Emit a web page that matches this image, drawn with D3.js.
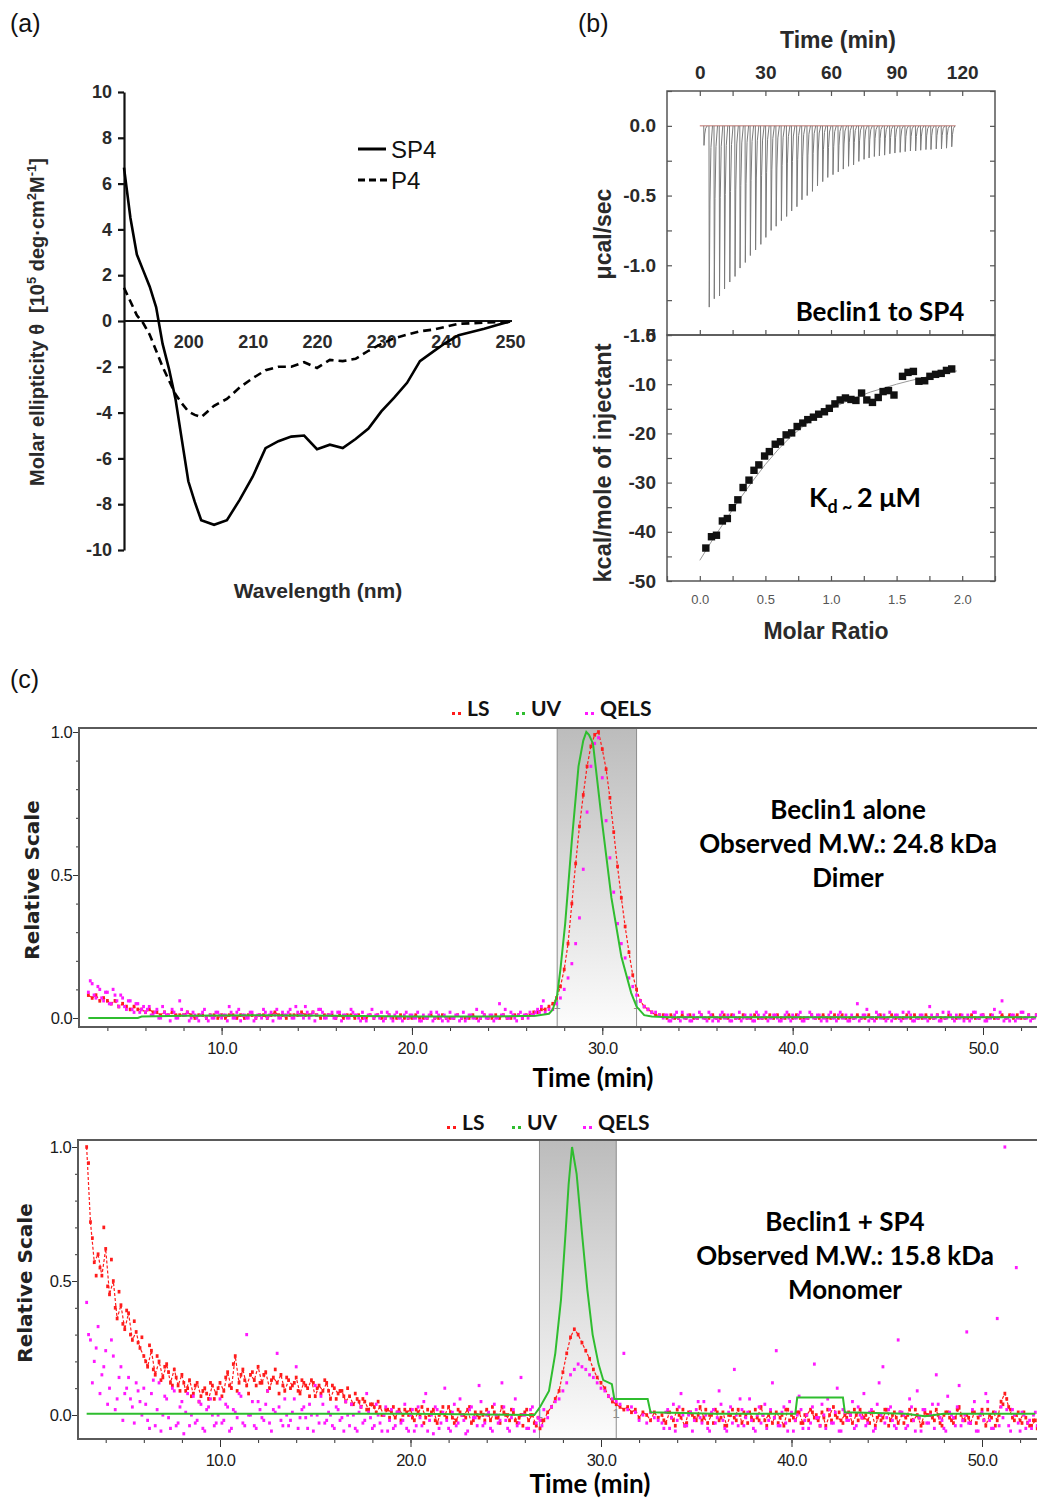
<!DOCTYPE html>
<html><head><meta charset="utf-8">
<script src="https://cdn.jsdelivr.net/npm/d3@7"></script>
<style>body{margin:0;background:#fff}svg{display:block}</style>
</head><body>
<script>
// ================= DATA =================
// Panel (a): CD spectra
const cdWavelength = [190,191,192,193,194,195,196,197,198,199,200,201,202,204,206,208,210,212,214,216,218,220,222,224,226,228,230,232,234,236,238,240,242,244,246,248,250];
const cdSP4 = [6.7,4.5,2.9,2.2,1.5,0.6,-1.0,-2.1,-3.4,-5.2,-7.0,-7.9,-8.7,-8.9,-8.7,-7.8,-6.8,-5.55,-5.25,-5.05,-5.0,-5.6,-5.4,-5.55,-5.15,-4.7,-3.95,-3.35,-2.7,-1.75,-1.35,-0.95,-0.62,-0.48,-0.34,-0.18,-0.02];
const cdP4 = [1.45,0.85,0.25,-0.1,-0.6,-1.3,-2.0,-2.6,-3.2,-3.6,-3.95,-4.1,-4.2,-3.7,-3.4,-2.9,-2.5,-2.15,-2.0,-2.0,-1.8,-2.05,-1.7,-1.75,-1.65,-1.3,-1.0,-0.75,-0.6,-0.45,-0.38,-0.25,-0.12,-0.1,-0.07,-0.05,-0.05];
const cdYTicks = [-10,-8,-6,-4,-2,0,2,4,6,8,10];
const cdXTicks = [200,210,220,230,240,250];

// Panel (b): ITC
const itcInjTime = [1.8,4.2,6.5,8.9,11.2,13.6,16.0,18.3,20.7,23.0,25.4,27.8,30.1,32.5,34.8,37.2,39.6,41.9,44.3,46.6,49.0,51.4,53.7,56.1,58.4,60.8,63.2,65.5,67.9,70.2,72.6,75.0,77.3,79.7,82.0,84.4,86.8,89.1,91.5,93.8,96.2,98.6,100.9,103.3,105.6,108.0,110.4,112.7,115.1];
const itcPeak = [-0.14,-1.30,-1.24,-1.22,-1.17,-1.12,-1.08,-1.02,-0.98,-0.93,-0.89,-0.85,-0.80,-0.75,-0.72,-0.68,-0.65,-0.61,-0.58,-0.53,-0.50,-0.47,-0.43,-0.40,-0.37,-0.35,-0.33,-0.31,-0.29,-0.28,-0.255,-0.24,-0.23,-0.22,-0.215,-0.21,-0.20,-0.195,-0.19,-0.185,-0.18,-0.18,-0.175,-0.17,-0.17,-0.165,-0.165,-0.16,-0.15];
const itcBaseline = [0, 117];
const itcRatio = [0.046,0.089,0.127,0.172,0.21,0.248,0.29,0.33,0.375,0.413,0.45,0.494,0.53,0.575,0.615,0.658,0.70,0.742,0.785,0.823,0.866,0.906,0.95,0.987,1.03,1.07,1.11,1.152,1.19,1.233,1.273,1.316,1.36,1.397,1.438,1.48,1.545,1.587,1.628,1.67,1.714,1.754,1.797,1.84,1.88,1.92];
const itcHeat = [-43.3,-41.0,-40.7,-37.8,-37.3,-35.1,-33.5,-31.0,-29.5,-27.5,-26.4,-24.6,-23.7,-22.2,-21.7,-20.3,-19.9,-18.6,-17.9,-17.2,-16.7,-16.1,-15.6,-14.9,-14.0,-13.2,-12.8,-13.1,-13.3,-11.8,-13.2,-13.7,-12.7,-11.5,-11.3,-12.2,-8.4,-7.6,-7.4,-9.4,-9.3,-8.4,-8.0,-7.8,-7.2,-6.9];
const fitRatio = [0,0.1,0.2,0.3,0.4,0.5,0.6,0.7,0.8,0.9,1.0,1.1,1.2,1.3,1.4,1.5,1.6,1.7,1.8,1.9,1.96];
const fitHeat = [-45.8,-41.5,-37.5,-33.5,-29.8,-26.3,-23.2,-20.5,-18.3,-16.5,-15.0,-13.7,-12.6,-11.6,-10.8,-10.0,-9.3,-8.7,-8.1,-7.6,-7.3];
const itcTimeTicks = [0,15,30,45,60,75,90,105,120];
const itcRateTicks = [-1.5,-1.25,-1.0,-0.75,-0.5,-0.25,0,0.25];
const itcRateLabels = [-1.5,-1.0,-0.5,0];
const itcHeatTicks = [-50,-45,-40,-35,-30,-25,-20,-15,-10,-5,0];
const itcHeatLabels = [-50,-40,-30,-20,-10,0];
const itcRatioTicks = [-0.25,0,0.25,0.5,0.75,1.0,1.25,1.5,1.75,2.0,2.25];
const itcRatioLabels = [0,0.5,1.0,1.5,2.0];

// Panel (c): SEC-MALS traces, relative scale in percent, sampled every 0.2 min
// (A samples start at 3.0 / 27.0 / 33.2 min, B samples are interleaved at +0.1 min)
const secStep = 0.2, secPreStart = 3.0, secPeakStart = 27.0, secPostStart = 33.2;
const secPreStartB = 3.1, secPostStartB = 33.3;
const secMajorTicks = [10,20,30,40,50];
const secYLabels = [0,0.5,1.0];
// top: Beclin1 alone
const lsTopPre = [8,7,8,6,7,6,5,6,4,5,4,3,4,3,3, 2,3,2,2,1,2,1,2,1,1,1,2,1,0,1,1,0,1,1,0,
 1,0,1,1,0,1,0,1,1,0, 1,1,0,1,2,1,1,0,1,1, 1,2,1,1,2,1,0,1,1,1, 0,1,0,1,1,0,1,0,0,1, 0,1,0,0,1,0,0,1,0,0,
 0,1,0,0,0,1,0,0,1,0, 0,0,1,0,0,0,1,0,0,1, 0,0,1,0,1,0,0,1,1,0, 1,1,2,2,3];
const lsTopPeak = [3,4,5,7,11,17,26,40,54,67,78,88,95,99,100,94,87,77,65,53,42,32,23,15,10,6,4,3,2,1,1];
const lsTopPost = [1,0,1,0,0,1,0,1,0,0, 1,0,0,1,0,0,1,0,1,0, 0,1,0,0,1,0,0,0,1,0, 1,0,0,1,0,1,0,0,0,1, 0,0,1,0,0,1,0,1,0,0, 0,1,0,0,1,0,0,1,0,0, 1,0,0,0,1,0,1,0,0,1, 0,0,1,0,0,1,0,0,1,0, 0,1,0,0,1,0,1,0,0,1, 0,1,0,1,0,0,1,0,1];
const qelsTopPre = [9,12,7,10,6,9,5,8,4,7,3,6,2,5,3, 2,4,1,3,0,2,1,3,0,6,1,2,0,1,-1,2,0,1,0,2,
 0,1,4,0,2,-1,1,0,2,0, 1,3,0,2,1,0,2,1,3,0, 2,1,4,0,2,1,3,0,1,2, 0,2,1,0,3,1,0,2,-1,1, 0,1,2,0,1,-1,2,0,1,0,
 1,0,-1,1,0,2,0,1,-1,0, 2,0,1,0,-1,1,0,3,0,1, 0,1,0,5,1,0,2,0,1,0, 1,2,1,3,4];
const qelsTopPeak = [2,3,3,5,7,10,14,19,26,35,52,72,88,96,98,84,69,56,44,33,26,21,14,11,8,6,4,3,2,2,1];
const qelsTopPost = [0,1,-1,1,0,2,0,-1,1,0, 1,0,2,-1,0,1,0,1,-1,0, 2,0,0,1,-1,1,0,2,0,1, 0,-1,1,0,1,0,2,-1,0,1, 0,1,0,-1,2,0,1,0,1,-1, 0,5,0,1,-1,0,2,0,1,0, -1,1,0,2,0,1,-1,0,1,0, 4,0,1,-1,0,2,0,1,0,-1, 1,0,2,0,1,-1,0,3,0,6, 0,-1,1,0,2,0,1,0,1];
const qelsTopPreB = [13,8,11,7,9,5,10,6,8,4,6,3,5,2,4, 3,1,2,0,4,1,-1,2,0,3,1,-1,2,0,1,3,-1,0,2,1,
 1,-1,2,0,3,1,0,2,-1,1, 0,2,1,-1,3,0,1,2,0,4, 1,0,2,1,-1,3,2,0,1,0, 2,-1,1,0,2,1,-1,0,1,3, 1,0,-1,2,0,1,0,-1,2,1,
 0,2,-1,0,1,-1,2,0,1,-1, 0,1,-1,2,0,1,0,-1,2,0, 1,-1,0,1,3,0,1,-1,2,1, 0,1,2,2,6];
const qelsTopPostB = [1,-1,0,2,-1,0,1,-1,0,2, 0,-1,1,0,-1,2,0,-1,1,0, -1,1,0,-1,2,0,1,-1,0,1, -1,0,2,-1,0,1,-1,0,2,0, 1,-1,0,1,0,-1,2,0,-1,1, 0,-1,1,3,0,-1,1,0,-1,2, 0,1,-1,0,2,-1,0,1,0,-1, 1,0,-1,2,0,1,-1,0,1,0, -1,2,0,1,-1,0,1,0,2, -1,0,1,-1,0,2,0,-1,0,1];
const uvTopTime = [3.0,5.6,5.8,8,12,16,20,24,26.5,27.2,27.4,27.63,27.8,28.05,28.4,28.75,29.0,29.16,29.3,29.51,29.96,30.48,31.0,31.52,31.8,32.2,32.6,33.5,40,52.8];
const uvTopVal = [0,0,0.5,0.8,1,0.8,0.5,0.5,0.8,1.5,3,8,17,33,62,88,97,100,99,96,70,42,21.5,8.7,4,1,0.5,0.3,0.3,0.3];
const bandTop = [27.63, 31.8];
// bottom: Beclin1 + SP4
const lsBotPre = [100,72,57,60,52,62,45,50,36,41,32,38,28,31,25, 22,18,24,15,20,14,19,12,17,11,15,9,13,8,12,7,10,6,11,8,
 12,9,16,10,22,12,17,11,15,13, 18,12,16,10,14,12,15,9,13,11, 14,8,12,10,13,7,11,9,12,6, 10,8,9,5,7,4,6,3,5,2, 4,1,3,0,2,1,-1,2,0,1,
 2,-2,1,3,-1,0,2,-3,1,0, 3,-1,-2,1,0,2,-3,1,-1,0, 2,-2,1,-1,3,0,-2,1,-3,0, 1,-2,0,-4,-5];
const lsBotPeak = [-2,1,3,6,9,16,23,29,32,30,27,24,21,17,14,12,10,7,5,4,3,2,3,1,2,-1,1,0,-2,1,-1];
const lsBotPost = [0,-3,1,-2,2,-1,-4,1,0,-2, 3,-1,-3,0,2,-2,1,-4,0,-1, 2,-3,0,1,-2,-1,3,-2,0,-3, 1,-1,-4,2,0,-2,1,-3,0,2, -1,-2,1,-4,0,3,-1,-2,0,1, -3,0,2,-1,-2,1,-4,0,-1,2, -2,1,-3,0,-1,2,-2,0,-4,1, 0,-1,2,-3,0,1,-2,-1,3,-2, 0,-3,1,-1,2,-4,0,1,-2,5, 8,3,-1,0,-2,1,-3,-4,-2];
const lsBotPreB = [94,66,52,55,70,48,58,40,46,34,39,30,35,27,29, 20,26,17,22,13,18,16,11,14,9,12,10,7,11,5,9,8,12,6,10,
 7,14,11,19,9,15,13,8,16,11, 12,15,9,13,17,8,11,14,10,12, 9,13,11,7,12,10,8,13,9,11, 6,9,7,10,4,8,5,6,2,4, 3,5,0,2,-1,3,1,-2,2,0,
 -1,2,0,-3,2,1,-2,0,3,-1, 1,-3,2,0,-1,3,-2,0,1,-2, 0,3,-1,-3,1,0,2,-2,-1,-4, 2,0,-3,-1,-2];
const lsBotPostB = [-2,1,-1,-4,0,2,-3,1,-1,0, -2,2,0,-3,1,-1,-4,0,2,-2, 0,1,-3,-1,2,-2,0,-4,1,-1, -3,0,2,-2,-1,1,-3,0,-2,1, 0,-4,-1,2,-2,0,1,-3,-1,0, 2,-2,-1,0,-3,1,-1,-2,2,-4, 0,-1,1,-3,0,-2,2,-1,-3,0, 1,-2,0,-4,1,-1,-3,2,0,-2, -1,1,-3,0,-2,2,-1,-4,0,4, 6,2,-2,1,-3,-1,-4,-2,-5];
const qelsBotPre = [42,28,20,33,15,24,10,22,6,18,8,14,3,12,5, 10,-2,8,-4,12,0,6,-5,9,-3,5,1,-4,7,-2,4,-6,3,0,-3,
 6,-2,3,-5,1,8,-3,30,0,-4, 5,-1,4,-3,2,23,-2,6,-4,1, 18,-1,3,-5,0,11,-3,4,-2,0, -5,2,-1,5,-4,0,-6,3,-2,1, -5,4,-3,0,-6,2,-4,1,-2,-5,
 0,-6,3,-4,8,-2,-7,2,-3,10, -5,1,-4,6,-2,-6,3,-1,11,-4, 0,-5,4,-3,12,-2,-6,2,-4,14, 0,-5,3,-3,-2];
const qelsBotPeak = [2,-1,3,5,6,9,12,15,17,19,18,17,15,14,12,10,9,7,6,5,4,23,2,3,1,-2,0,-3,1,-1,-2];
const qelsBotPost = [-3,1,-5,4,-2,8,-4,0,-6,2, -1,5,-5,1,-3,9,-2,-6,3,17, -4,2,-1,6,-5,0,-3,4,-2,12, 24,-4,3,-6,1,-2,7,-5,0,-3, 19,-1,4,-5,2,-3,10,-6,1,-2, 5,-4,0,8,-3,2,-5,12,18,-1, 3,-4,28,1,-5,6,-2,9,-6,2, -3,4,15,-1,-5,7,0,-4,11,-2, 31,-3,5,-6,1,8,-2,-5,36,3, 100,-4,2,55,-6,0,-3,-5,1];
const qelsBotPreB = [30,12,25,8,18,4,28,2,14,-2,10,6,-3,9,0, 4,-5,13,2,-6,7,-1,10,-4,3,-7,8,0,-3,5,-5,2,6,-4,0,
 -3,4,-6,2,-1,7,-4,0,5,-5, 2,-2,9,-6,1,3,-4,0,-2,6, -5,2,-1,4,-6,0,7,-3,1,-4, 3,-2,-6,0,4,-5,1,-3,8,-1, -4,0,-6,3,-2,-5,1,-3,4,-6,
 2,-4,-1,5,-6,0,3,-5,1,-2, -6,4,-3,0,-7,2,-1,-4,5,-3, 1,-6,0,-2,3,-5,-1,6,-3,0, -5,2,-6,-1,-4];
const qelsBotPostB = [-5,2,-1,-6,3,0,-4,1,-2,5, -3,0,-6,2,-1,4,-5,1,-3,0, 6,-4,1,-2,-6,3,0,-5,2,-1, -4,1,-3,5,-6,0,2,-2,-5,3, -1,-4,0,6,-3,1,-6,2,-2,0, -5,3,-1,-4,1,-6,4,0,-3,2, -2,-5,1,0,-4,3,-6,-1,2,-3, 0,-5,4,-2,-6,1,-1,3,-4,0, -3,2,-6,0,-2,5,-5,1,-4,-1, 2,-6,0,-3,1,-5,-2,0,-4];
const uvBotTime = [3.0,10,15,20,26.5,26.8,27.27,27.6,27.9,28.14,28.3,28.48,28.72,29.0,29.28,29.56,29.87,30.12,30.57,30.7,31.1,32.45,32.6,36,40.2,40.3,42.7,42.8,46,47,48,52.8];
const uvBotVal = [0.5,0.5,0.5,0.5,0,3,9,23,43,68,86,100,90,68,47,30,19,13,11.5,6,6,6,1,0.5,0.5,6.5,6.5,1,0.5,-0.5,0.5,0.5];
const bandBot = [26.77, 30.8];

// ================= DRAWING =================
const W = 1037, H = 1501;
const FA = '"Liberation Sans", Arial, sans-serif';
const FC = 'Lato, "Open Sans", sans-serif';
const FN = '"Liberation Sans Narrow", "Arial Narrow", "Liberation Sans", sans-serif';
const FV = '"DejaVu Sans", Verdana, sans-serif';
const svg = d3.select('body').append('svg').attr('width', W).attr('height', H);
const defs = svg.append('defs');

function label(g, x, y, txt, opts = {}) {
  return g.append('text').attr('x', x).attr('y', y).text(txt)
    .attr('font-family', opts.f || FA).attr('font-size', opts.s || 16)
    .attr('font-weight', opts.w || 'normal').attr('fill', opts.c || '#111')
    .attr('text-anchor', opts.a || 'middle');
}

// ---------- Panel (a) ----------
const gA = svg.append('g');
label(gA, 10, 32, '(a)', {a: 'start', s: 25, c: '#111'});
const xA = d3.scaleLinear().domain([190, 250]).range([124, 510]);
const yA = d3.scaleLinear().domain([-10, 10]).range([550, 92]);
const yAxA = gA.append('g').attr('transform', 'translate(124,0)')
  .call(d3.axisLeft(yA).tickValues(cdYTicks).tickSize(6).tickSizeOuter(0).tickPadding(6).tickFormat(d => String(d)));
const xAxA = gA.append('g').attr('transform', `translate(0,${yA(0)})`)
  .call(d3.axisBottom(xA).tickValues(cdXTicks).tickSize(0).tickSizeOuter(0).tickPadding(14).tickFormat(d => String(d)));
[yAxA, xAxA].forEach(ax => {
  ax.select('.domain').attr('stroke', '#111').attr('stroke-width', 2.2);
  ax.selectAll('.tick line').attr('stroke', '#111').attr('stroke-width', 2.2);
  ax.selectAll('.tick text').attr('font-family', FA).attr('font-size', 18).attr('font-weight', 'bold').attr('fill', '#2a2a2a');
});
xAxA.select('.domain').attr('d', `M124,0H512`);
const cdRows = cdWavelength.map((w, i) => ({w, sp4: cdSP4[i], p4: cdP4[i]}));
gA.append('path').datum(cdRows).attr('fill', 'none').attr('stroke', '#000').attr('stroke-width', 2.6)
  .attr('d', d3.line().x(d => xA(d.w)).y(d => yA(d.sp4)));
gA.append('path').datum(cdRows).attr('fill', 'none').attr('stroke', '#000').attr('stroke-width', 2.6)
  .attr('stroke-dasharray', '8,5').attr('d', d3.line().x(d => xA(d.w)).y(d => yA(d.p4)));
// legend
gA.append('line').attr('x1', 358).attr('x2', 386).attr('y1', 149).attr('y2', 149).attr('stroke', '#000').attr('stroke-width', 3);
gA.append('line').attr('x1', 358).attr('x2', 388).attr('y1', 180).attr('y2', 180).attr('stroke', '#000').attr('stroke-width', 3).attr('stroke-dasharray', '7,4');
label(gA, 391, 158, 'SP4', {a: 'start', s: 24});
label(gA, 391, 189, 'P4', {a: 'start', s: 24});
// titles
const ytA = gA.append('text').attr('transform', 'translate(44,322) rotate(-90)').attr('text-anchor', 'middle')
  .attr('font-family', FA).attr('font-size', 20).attr('font-weight', 'bold').attr('fill', '#2a2a2a').style('white-space', 'pre');
ytA.append('tspan').text('Molar ellipticity θ  [10');
ytA.append('tspan').attr('dy', -8).attr('font-size', 13).text('5');
ytA.append('tspan').attr('dy', 8).text(' deg·cm');
ytA.append('tspan').attr('dy', -8).attr('font-size', 13).text('2');
ytA.append('tspan').attr('dy', 8).text('M');
ytA.append('tspan').attr('dy', -8).attr('font-size', 13).text('-1');
ytA.append('tspan').attr('dy', 8).text(']');
label(gA, 318, 598, 'Wavelength (nm)', {s: 21, w: 'bold', c: '#2a2a2a'});

// ---------- Panel (b) ----------
const gB = svg.append('g');
label(gB, 578, 32, '(b)', {a: 'start', s: 25});
const xT = d3.scaleLinear().domain([-15, 135]).range([667, 995]);
const yT = d3.scaleLinear().domain([-1.5, 0.25]).range([335, 91]);
const xR = d3.scaleLinear().domain([-0.25, 2.25]).range([667, 995]);
const yH = d3.scaleLinear().domain([-50, 0]).range([581, 335]);
function styleB(ax, size, weight, color) {
  ax.select('.domain').remove();
  ax.selectAll('.tick line').attr('stroke', '#555').attr('stroke-width', 1.2);
  ax.selectAll('.tick text').attr('font-family', FA).attr('font-size', size).attr('font-weight', weight).attr('fill', color);
}
const fmtRate = d => d === 0 ? '0.0' : d3.format('.1f')(d).replace('−', '-');
styleB(gB.append('g').attr('transform', 'translate(0,91)')
  .call(d3.axisTop(xT).tickValues(itcTimeTicks).tickSize(-5).tickPadding(12).tickFormat(d => d % 30 === 0 ? String(d) : '')), 19, 'bold', '#2a2a2a');
styleB(gB.append('g').attr('transform', 'translate(0,335)')
  .call(d3.axisBottom(xT).tickValues(itcTimeTicks).tickSize(-5).tickFormat('')), 12, 'normal', '#000');
styleB(gB.append('g').attr('transform', 'translate(667,0)')
  .call(d3.axisLeft(yT).tickValues(itcRateTicks).tickSize(-5).tickPadding(11).tickFormat(d => itcRateLabels.includes(d) ? fmtRate(d) : '')), 19, 'bold', '#2a2a2a');
styleB(gB.append('g').attr('transform', 'translate(995,0)')
  .call(d3.axisRight(yT).tickValues(itcRateTicks).tickSize(-5).tickFormat('')), 12, 'normal', '#000');
styleB(gB.append('g').attr('transform', 'translate(667,0)')
  .call(d3.axisLeft(yH).tickValues(itcHeatTicks).tickSize(-5).tickPadding(11).tickFormat(d => itcHeatLabels.includes(d) ? String(d) : '')), 19, 'bold', '#2a2a2a');
styleB(gB.append('g').attr('transform', 'translate(995,0)')
  .call(d3.axisRight(yH).tickValues(itcHeatTicks).tickSize(-5).tickFormat('')), 12, 'normal', '#000');
styleB(gB.append('g').attr('transform', 'translate(0,581)')
  .call(d3.axisBottom(xR).tickValues(itcRatioTicks).tickSize(-5).tickPadding(14).tickFormat(d => itcRatioLabels.includes(d) ? d3.format('.1f')(d) : '')), 13, 'normal', '#555');
gB.append('rect').attr('x', 667).attr('y', 91).attr('width', 328).attr('height', 244).attr('fill', 'none').attr('stroke', '#555').attr('stroke-width', 1.5);
gB.append('rect').attr('x', 667).attr('y', 335).attr('width', 328).attr('height', 246).attr('fill', 'none').attr('stroke', '#555').attr('stroke-width', 1.5);
// raw thermogram
gB.append('path').datum(itcBaseline).attr('stroke', '#c0706a').attr('stroke-width', 1)
  .attr('d', d => `M${xT(d[0])},${yT(0)}H${xT(d[1])}`);
const spikeShape = [[0, 0], [0.12, 1], [0.45, 0.42], [0.9, 0.12], [1.6, 0]];
const spikeLine = d3.line().x(d => xT(d[0])).y(d => yT(d[1]));
gB.append('g').selectAll('path').data(itcInjTime.map((t, i) => ({t, d: itcPeak[i]}))).join('path')
  .attr('fill', 'none').attr('stroke', '#7a7a7a').attr('stroke-width', 1)
  .attr('d', s => spikeLine(spikeShape.map(p => [s.t + p[0], p[1] * s.d])));
// integrated heats
gB.append('path').datum(fitRatio.map((r, i) => [r, fitHeat[i]])).attr('fill', 'none').attr('stroke', '#999').attr('stroke-width', 1)
  .attr('d', d3.line().x(d => xR(d[0])).y(d => yH(d[1])));
gB.append('g').selectAll('rect').data(itcRatio.map((r, i) => [r, itcHeat[i]])).join('rect')
  .attr('x', d => xR(d[0]) - 3.7).attr('y', d => yH(d[1]) - 3.7).attr('width', 7.4).attr('height', 7.4).attr('fill', '#111');
// texts
label(gB, 838, 48, 'Time (min)', {s: 23, w: 'bold', c: '#2a2a2a'});
label(gB, 826, 639, 'Molar Ratio', {s: 23, w: 'bold', c: '#2a2a2a'});
gB.append('text').attr('transform', 'translate(611,234) rotate(-90)').attr('text-anchor', 'middle')
  .attr('font-family', FA).attr('font-size', 23).attr('font-weight', 'bold').attr('fill', '#2a2a2a').text('μcal/sec');
gB.append('text').attr('transform', 'translate(611,463) rotate(-90)').attr('text-anchor', 'middle')
  .attr('font-family', FA).attr('font-size', 23.5).attr('font-weight', 'bold').attr('fill', '#2a2a2a').text('kcal/mole of injectant');
label(gB, 880, 321, 'Beclin1 to SP4', {f: FC, s: 26, w: 'bold', c: '#000'});
const kd = gB.append('text').attr('x', 865).attr('y', 507).attr('text-anchor', 'middle')
  .attr('font-family', FC).attr('font-weight', 'bold').attr('font-size', 27).attr('fill', '#000');
kd.append('tspan').text('K');
kd.append('tspan').attr('dy', 6).attr('font-size', 18).text('d');
kd.append('tspan').attr('font-size', 18).text(' ~ ');
kd.append('tspan').attr('dy', -6).text('2 μM');

// ---------- Panel (c) ----------
label(svg, 10, 688, '(c)', {a: 'start', s: 25});
const secMinorX = d3.range(4, 53, 2);
const secMinorY = d3.range(0, 1.01, 0.1);
const RED = '#ff1c1c', GREEN = '#2fbd2f', MAG = '#ff19ff';

function drawSEC(p) {
  const g = svg.append('g');
  const x = d3.scaleLinear().domain([10, 50]).range(p.xr);
  const y = d3.scaleLinear().domain([0, 1]).range(p.yr);
  const gid = 'band' + p.id, cid = 'clip' + p.id;
  const grad = defs.append('linearGradient').attr('id', gid).attr('x1', 0).attr('y1', 0).attr('x2', 0).attr('y2', 1);
  grad.append('stop').attr('offset', 0).attr('stop-color', '#bcbcbc');
  grad.append('stop').attr('offset', 1).attr('stop-color', '#fcfcfc');
  defs.append('clipPath').attr('id', cid).append('rect')
    .attr('x', p.left).attr('y', p.top).attr('width', W - p.left).attr('height', p.bottom - p.top);
  // band
  g.append('rect').attr('x', x(p.band[0])).attr('y', p.top).attr('width', x(p.band[1]) - x(p.band[0]))
    .attr('height', p.bottom - p.top).attr('fill', `url(#${gid})`);
  g.selectAll('line.edge').data(p.band).join('line').attr('class', 'edge')
    .attr('x1', d => x(d)).attr('x2', d => x(d)).attr('y1', p.top).attr('y2', p.bottom)
    .attr('stroke', '#8c8c8c').attr('stroke-width', 1);
  g.selectAll('text.mark').data(p.band).join('text').attr('class', 'mark')
    .attr('x', d => x(d)).attr('y', y(p.markV)).attr('text-anchor', 'middle')
    .attr('font-family', FN).attr('font-size', 13).attr('fill', '#8c8c8c').text('1');
  // axes
  const axB1 = g.append('g').attr('transform', `translate(0,${p.bottom})`)
    .call(d3.axisBottom(x).tickValues(secMinorX).tickSize(4).tickSizeOuter(0).tickFormat(''));
  const axB2 = g.append('g').attr('transform', `translate(0,${p.bottom})`)
    .call(d3.axisBottom(x).tickValues(secMajorTicks).tickSize(8).tickSizeOuter(0).tickPadding(7).tickFormat(d3.format('.1f')));
  const axL1 = g.append('g').attr('transform', `translate(${p.left},0)`)
    .call(d3.axisLeft(y).tickValues(secMinorY).tickSize(3).tickSizeOuter(0).tickFormat(''));
  const axL2 = g.append('g').attr('transform', `translate(${p.left},0)`)
    .call(d3.axisLeft(y).tickValues(secYLabels).tickSize(6).tickSizeOuter(0).tickPadding(1).tickFormat(d3.format('.1f')));
  [axB1, axB2, axL1, axL2].forEach(ax => {
    ax.select('.domain').remove();
    ax.selectAll('.tick line').attr('stroke', '#333');
    ax.selectAll('.tick text').attr('font-family', FN).attr('font-size', 16.5).attr('fill', '#1a1a1a')
      .attr('letter-spacing', -0.6);
  });
  // frame
  g.append('path').attr('fill', 'none').attr('stroke', '#5a5a5a').attr('stroke-width', 2)
    .attr('d', `M${W},${p.top}H${p.left}V${p.bottom}H${W}`);
  // series
  const seg = (start, arr) => arr.map((v, i) => ({t: start + i * secStep, v: v / 100}));
  const ls = [...seg(secPreStart, p.ls[0]), ...seg(secPeakStart, p.ls[1]), ...seg(secPostStart, p.ls[2])];
  const lsB = p.lsB ? [...seg(secPreStartB, p.lsB[0]), ...seg(secPostStartB, p.lsB[1])] : [];
  const qe = [...seg(secPreStart, p.qe[0]), ...seg(secPeakStart, p.qe[1]), ...seg(secPostStart, p.qe[2]),
              ...seg(secPreStartB, p.qeB[0]), ...seg(secPostStartB, p.qeB[1])];
  const uv = p.uvT.map((t, i) => ({t, v: p.uvV[i] / 100}));
  const line = d3.line().x(d => x(d.t)).y(d => y(d.v));
  const gs = g.append('g').attr('clip-path', `url(#${cid})`);
  gs.append('path').datum(ls).attr('fill', 'none').attr('stroke', RED).attr('stroke-width', 1.2)
    .attr('stroke-dasharray', '3,2').attr('d', line);
  gs.append('g').selectAll('rect').data(ls.concat(lsB)).join('rect')
    .attr('x', d => x(d.t) - 1.4).attr('y', d => y(d.v) - 1.8).attr('width', 2.8).attr('height', 3.6).attr('fill', RED);
  gs.append('g').selectAll('rect').data(qe).join('rect')
    .attr('x', d => x(d.t) - 1.4).attr('y', d => y(d.v) - 1.6).attr('width', 2.8).attr('height', 3.2).attr('fill', MAG);
  gs.append('path').datum(uv).attr('fill', 'none').attr('stroke', GREEN).attr('stroke-width', 2).attr('d', line);
  // legend
  const lg = g.append('g');
  [[RED, 'LS'], [GREEN, 'UV'], [MAG, 'QELS']].forEach((e, i) => {
    const lx = p.legX[i];
    lg.append('rect').attr('x', lx).attr('y', p.legY + 2).attr('width', 3).attr('height', 3).attr('fill', e[0]);
    lg.append('rect').attr('x', lx + 6).attr('y', p.legY + 2).attr('width', 3).attr('height', 3).attr('fill', e[0]);
    label(lg, lx + 15, p.legY + 6, e[1], {a: 'start', f: FC, s: 21, w: 'bold', c: '#111'});
  });
  // annotations
  p.note.forEach((t, i) => label(g, p.noteX, p.noteY + i * 34, t, {f: FC, s: 26, w: 'bold', c: '#000'}));
  label(g, p.tX, p.tY, 'Time (min)', {f: FC, s: 26, w: 'bold', c: '#000'});
  g.append('text').attr('transform', `translate(${p.rsX},${p.rsY}) rotate(-90)`).attr('text-anchor', 'middle')
    .attr('font-family', FV).attr('font-size', 20).attr('font-weight', 'bold').attr('fill', '#222').text('Relative Scale');
}

drawSEC({id: 'top', xr: [221.6, 983], yr: [1018, 732], left: 79, top: 728, bottom: 1027,
  band: bandTop, markV: 0.03, ls: [lsTopPre, lsTopPeak, lsTopPost], lsB: null,
  qe: [qelsTopPre, qelsTopPeak, qelsTopPost], qeB: [qelsTopPreB, qelsTopPostB],
  uvT: uvTopTime, uvV: uvTopVal, legX: [452, 516, 585], legY: 710,
  note: ['Beclin1 alone', 'Observed M.W.: 24.8 kDa', 'Dimer'], noteX: 848, noteY: 819,
  tX: 593, tY: 1087, rsX: 39, rsY: 880});
drawSEC({id: 'bot', xr: [220, 982], yr: [1415, 1147], left: 78, top: 1140, bottom: 1439,
  band: bandBot, markV: -0.01, ls: [lsBotPre, lsBotPeak, lsBotPost], lsB: [lsBotPreB, lsBotPostB],
  qe: [qelsBotPre, qelsBotPeak, qelsBotPost], qeB: [qelsBotPreB, qelsBotPostB],
  uvT: uvBotTime, uvV: uvBotVal, legX: [447, 512, 583], legY: 1124,
  note: ['Beclin1 + SP4', 'Observed M.W.: 15.8 kDa', 'Monomer'], noteX: 845, noteY: 1231,
  tX: 590, tY: 1493, rsX: 32, rsY: 1283});
</script>
</body></html>
